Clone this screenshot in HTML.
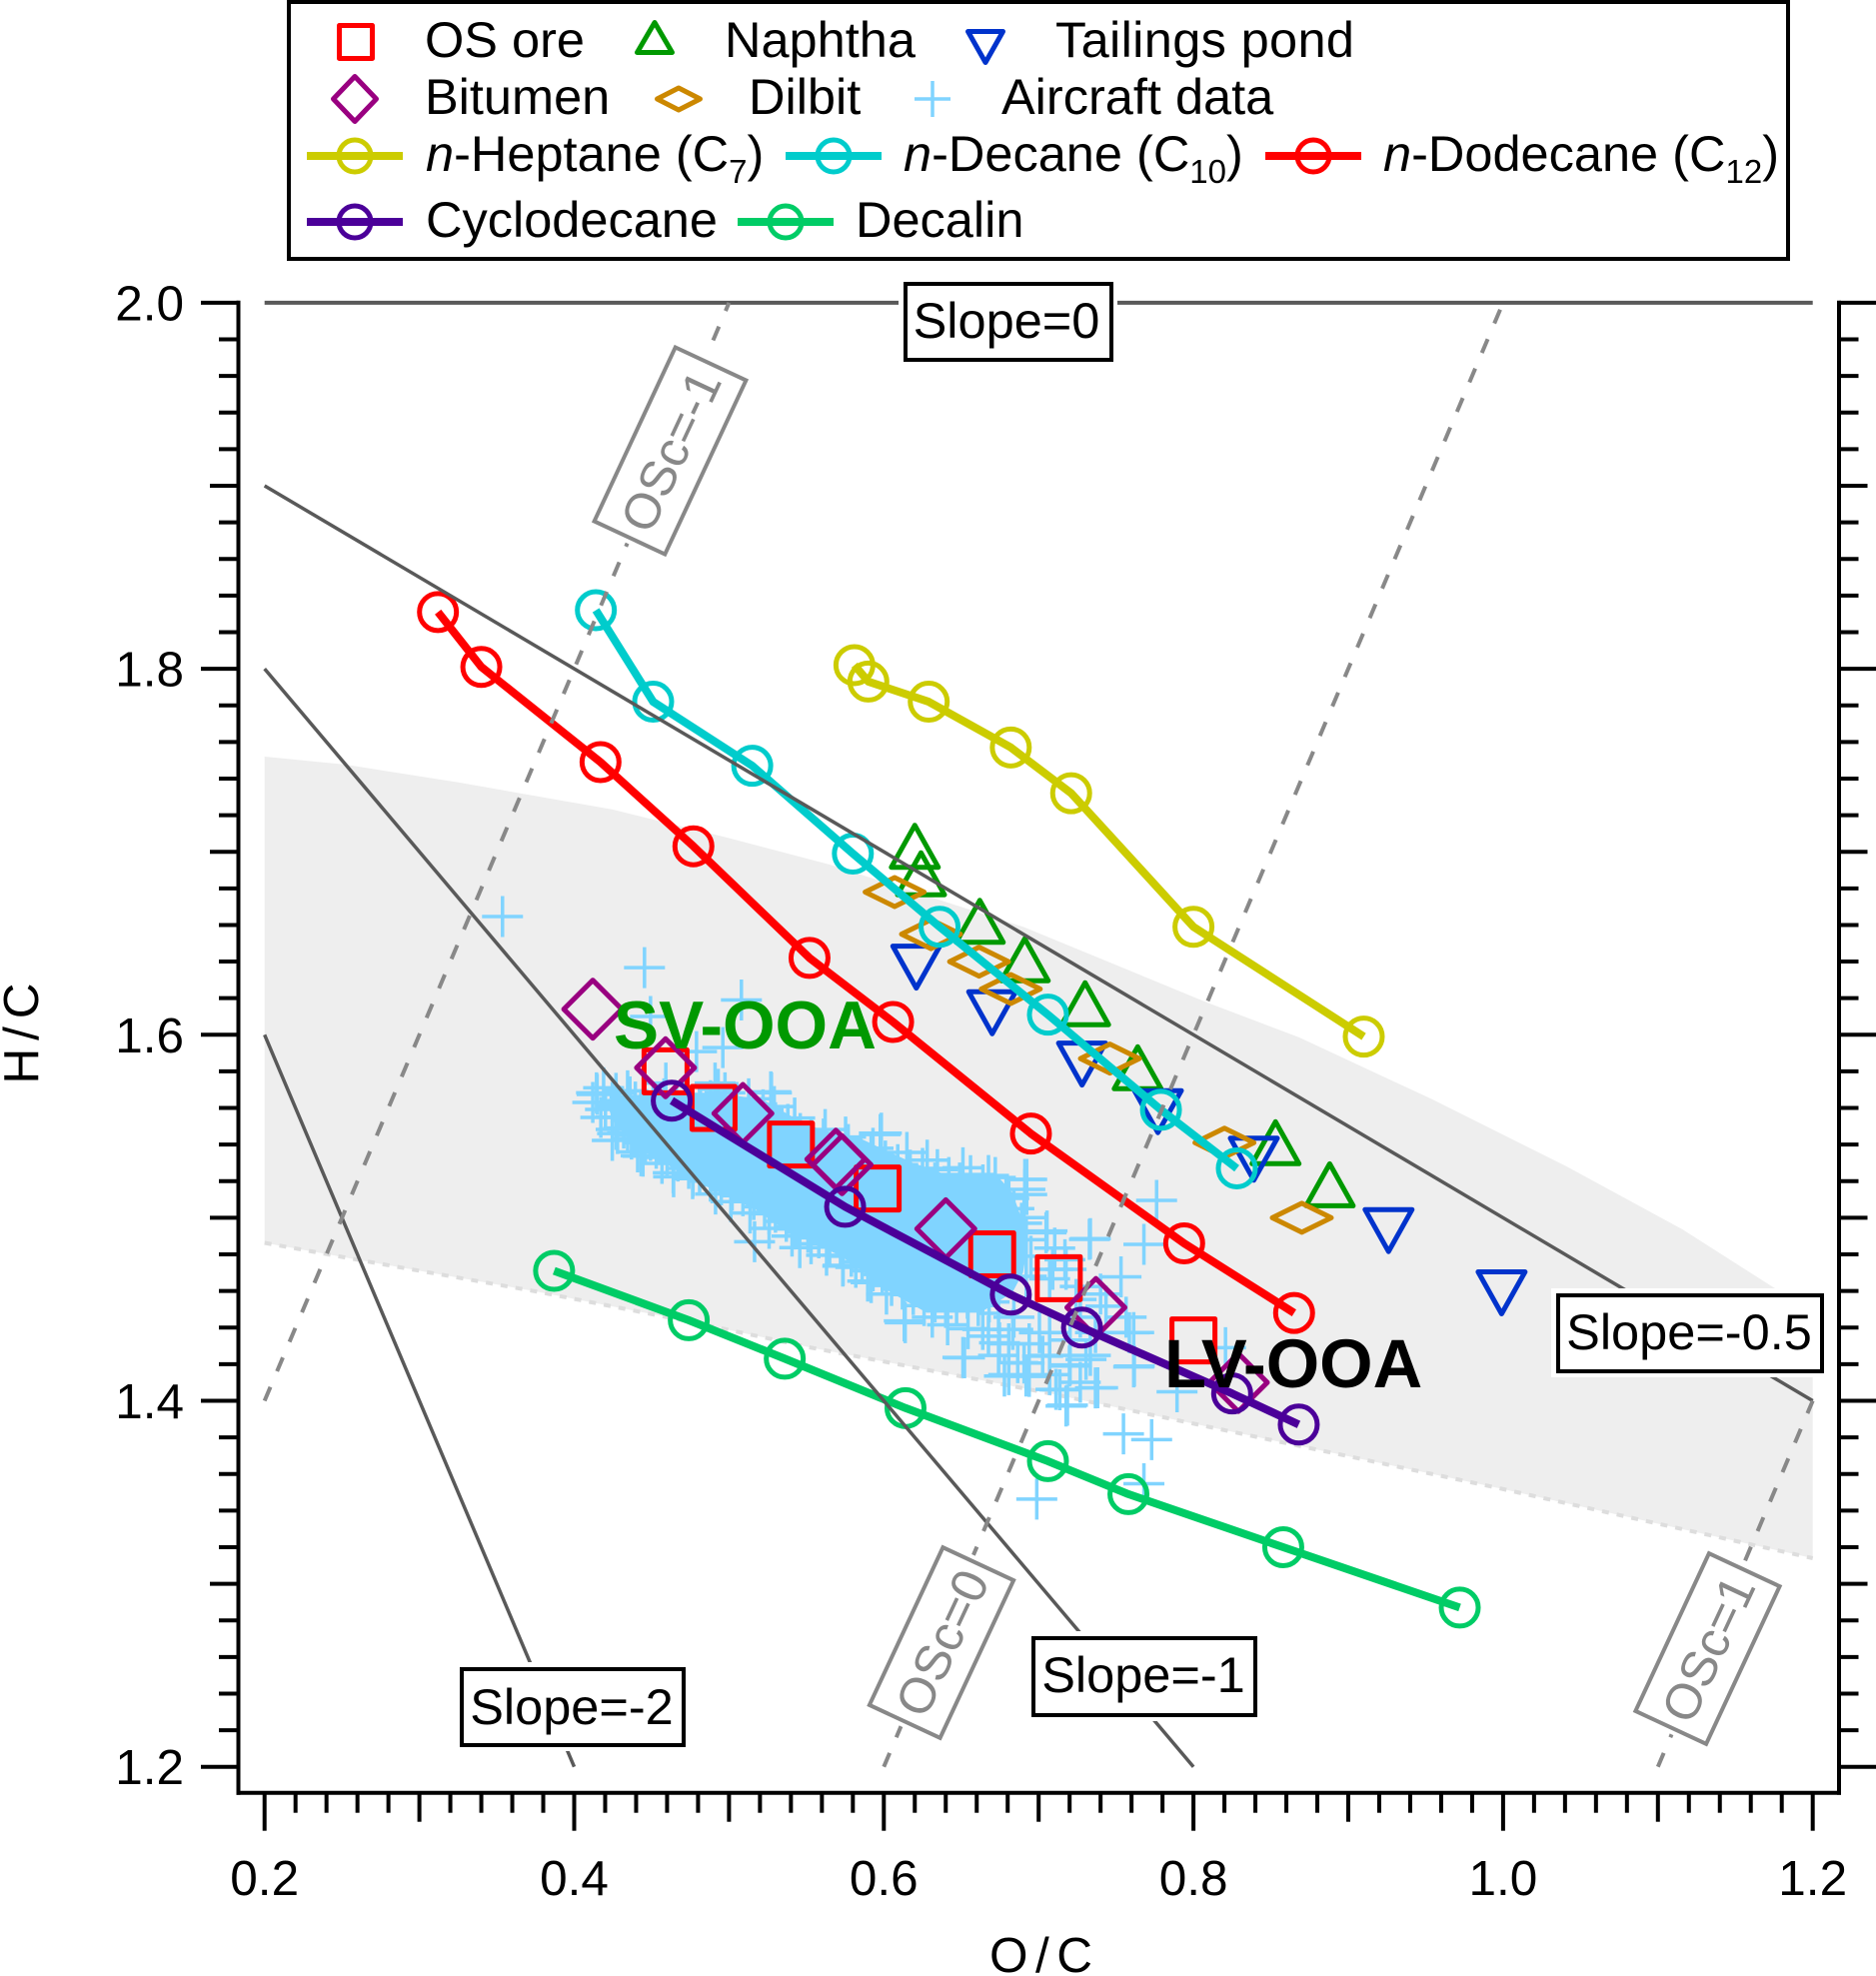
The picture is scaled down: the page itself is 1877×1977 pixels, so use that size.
<!DOCTYPE html>
<html lang="en">
<head>
<meta charset="utf-8">
<title>H/C versus O/C Van Krevelen diagram</title>
<style>
html,body{margin:0;padding:0;background:#fff;}
svg{display:block;}
text{font-family:"Liberation Sans",sans-serif;font-size:49.5px;fill:#000;}
.lg{font-size:50.5px;}
.osc{fill:#888;font-size:50px;}
.big{font-weight:700;}
</style>
</head>
<body>
<svg id="chart" xmlns="http://www.w3.org/2000/svg" width="1877" height="1977" viewBox="0 0 1877 1977">
  <g id="plot"></g>

  <g>
    <rect x="899" y="277" width="219" height="89" fill="#fff"/>
    <rect x="906" y="284" width="206" height="76" fill="#fff" stroke="#000" stroke-width="4"/>
    <text class="lg" x="1007" y="338" text-anchor="middle">Slope=0</text>
  </g>
  <g>
    <rect x="1552" y="1289" width="276" height="89" fill="#fff"/>
    <rect x="1559" y="1296" width="264" height="76" fill="#fff" stroke="#000" stroke-width="4"/>
    <text class="lg" x="1690" y="1350" text-anchor="middle">Slope=-0.5</text>
  </g>
  <g>
    <rect x="1027" y="1632" width="235" height="90" fill="#fff"/>
    <rect x="1034" y="1639" width="222" height="77" fill="#fff" stroke="#000" stroke-width="4"/>
    <text class="lg" x="1144" y="1693" text-anchor="middle">Slope=-1</text>
  </g>
  <g>
    <rect x="455" y="1663" width="235" height="89" fill="#fff"/>
    <rect x="462" y="1670" width="222" height="76" fill="#fff" stroke="#000" stroke-width="4"/>
    <text class="lg" x="572" y="1725" text-anchor="middle">Slope=-2</text>
  </g>
  <g transform="translate(670.5 451) rotate(-65)">
    <rect x="-102" y="-45" width="204" height="90" fill="#fff"/>
    <rect x="-96" y="-39" width="192" height="78" fill="#fff" stroke="#888" stroke-width="4"/>
    <text class="osc" x="0" y="18" text-anchor="middle">OSc=-1</text>
  </g>
  <g transform="translate(942 1643.5) rotate(-65)">
    <rect x="-93" y="-45" width="186" height="90" fill="#fff"/>
    <rect x="-87" y="-39" width="174" height="78" fill="#fff" stroke="#888" stroke-width="4"/>
    <text class="osc" x="0" y="18" text-anchor="middle">OSc=0</text>
  </g>
  <g transform="translate(1708.5 1649.5) rotate(-65)">
    <rect x="-93" y="-45" width="186" height="90" fill="#fff"/>
    <rect x="-87" y="-39" width="174" height="78" fill="#fff" stroke="#888" stroke-width="4"/>
    <text class="osc" x="0" y="18" text-anchor="middle">OSc=1</text>
  </g>

  <text class="big" x="614" y="1049" style="fill:#009900;font-size:67.6px">SV-OOA</text>
  <text class="big" x="1165" y="1388" style="font-size:68.7px">LV-OOA</text>

  <text x="990" y="1973" textLength="103" lengthAdjust="spacing">O / C</text>
  <text transform="translate(38 1084.5) rotate(-90)" textLength="101" lengthAdjust="spacing">H / C</text>

  <g>
    <rect x="289" y="2" width="1500" height="257" fill="#fff" stroke="#000" stroke-width="4"/>
    <g>
      <rect x="339.5" y="25.5" width="33" height="33" fill="none" stroke="#ff0000" stroke-width="5" stroke-linejoin="round"/>
      <text class="lg" x="425" y="57">OS ore</text>
    </g>
    <g>
      <polygon points="655,22.5 672.5,52.5 637.5,52.5" fill="none" stroke="#009900" stroke-width="5" stroke-linejoin="round"/>
      <text class="lg" x="725" y="57">Naphtha</text>
    </g>
    <g>
      <polygon points="968.5,31.5 1003.5,31.5 986,62.5" fill="none" stroke="#0033cc" stroke-width="5" stroke-linejoin="round"/>
      <text class="lg" x="1056" y="57" textLength="299" lengthAdjust="spacing">Tailings pond</text>
    </g>
    <g>
      <polygon points="355,76.5 376.5,99 355,121.5 333.5,99" fill="none" stroke="#990080" stroke-width="5" stroke-linejoin="round"/>
      <text class="lg" x="425" y="114">Bitumen</text>
    </g>
    <g>
      <polygon points="679,88 700.5,99 679,110 657.5,99" fill="none" stroke="#cc8800" stroke-width="5" stroke-linejoin="round"/>
      <text class="lg" x="749" y="114">Dilbit</text>
    </g>
    <g>
      <path d="M915 99H951M933 81V117" fill="none" stroke="#80d4ff" stroke-width="3.5"/>
      <text class="lg" x="1002" y="114">Aircraft data</text>
    </g>
    <g>
      <path d="M307 156H403" stroke="#cccc00" stroke-width="8"/>
      <circle cx="355" cy="156" r="16" fill="none" stroke="#cccc00" stroke-width="5"/>
      <text class="lg" x="426" y="171"><tspan font-style="italic">n</tspan>-Heptane (C<tspan dy="12" style="font-size:33px">7</tspan><tspan dy="-12">)</tspan></text>
    </g>
    <g>
      <path d="M786 156H882" stroke="#00cccc" stroke-width="8"/>
      <circle cx="834" cy="156" r="16" fill="none" stroke="#00cccc" stroke-width="5"/>
      <text class="lg" x="904" y="171"><tspan font-style="italic">n</tspan>-Decane (C<tspan dy="12" style="font-size:33px">10</tspan><tspan dy="-12">)</tspan></text>
    </g>
    <g>
      <path d="M1266 156H1362" stroke="#ff0000" stroke-width="8"/>
      <circle cx="1314" cy="156" r="16" fill="none" stroke="#ff0000" stroke-width="5"/>
      <text class="lg" x="1384" y="171"><tspan font-style="italic">n</tspan>-Dodecane (C<tspan dy="12" style="font-size:33px">12</tspan><tspan dy="-12">)</tspan></text>
    </g>
    <g>
      <path d="M307 222H403" stroke="#4b0099" stroke-width="8"/>
      <circle cx="355" cy="222" r="16" fill="none" stroke="#4b0099" stroke-width="5"/>
      <text class="lg" x="426" y="237">Cyclodecane</text>
    </g>
    <g>
      <path d="M738 222H834" stroke="#00cc66" stroke-width="8"/>
      <circle cx="786" cy="222" r="16" fill="none" stroke="#00cc66" stroke-width="5"/>
      <text class="lg" x="856" y="237">Decalin</text>
    </g>
  </g>
</svg>

<script>
/* Axis tick labels */
const xTickValues = [0.2, 0.4, 0.6, 0.8, 1.0, 1.2];
const xTickLabels = ["0.2", "0.4", "0.6", "0.8", "1.0", "1.2"];
const yTickValues = [1.2, 1.4, 1.6, 1.8, 2.0];
const yTickLabels = ["1.2", "1.4", "1.6", "1.8", "2.0"];

/* Model compound series */
const heptaneOC = [0.581, 0.590, 0.629, 0.682, 0.721, 0.800, 0.910];
const heptaneHC = [1.802, 1.793, 1.782, 1.757, 1.732, 1.659, 1.599];
const decaneOC = [0.414, 0.451, 0.515, 0.580, 0.636, 0.706, 0.779, 0.828];
const decaneHC = [1.832, 1.782, 1.747, 1.699, 1.659, 1.611, 1.559, 1.527];
const dodecaneOC = [0.312, 0.340, 0.417, 0.477, 0.552, 0.606, 0.695, 0.794, 0.865];
const dodecaneHC = [1.831, 1.801, 1.749, 1.703, 1.642, 1.607, 1.546, 1.486, 1.448];
const cyclodecaneOC = [0.463, 0.575, 0.682, 0.728, 0.825, 0.868];
const cyclodecaneHC = [1.564, 1.506, 1.458, 1.440, 1.404, 1.387];
const decalinOC = [0.387, 0.474, 0.536, 0.614, 0.706, 0.758, 0.858, 0.972];
const decalinHC = [1.471, 1.444, 1.423, 1.396, 1.367, 1.349, 1.320, 1.287];

/* Oil-sands samples */
const osOreOC = [0.459, 0.490, 0.540, 0.596, 0.670, 0.713, 0.800];
const osOreHC = [1.580, 1.560, 1.540, 1.516, 1.480, 1.467, 1.433];
const naphthaOC = [0.620, 0.624, 0.662, 0.691, 0.730, 0.764, 0.853, 0.888];
const naphthaHC = [1.703, 1.688, 1.662, 1.641, 1.617, 1.582, 1.541, 1.518];
const tailingsOC = [0.621, 0.670, 0.728, 0.777, 0.839, 0.926, 0.999];
const tailingsHC = [1.637, 1.612, 1.584, 1.558, 1.532, 1.493, 1.459];
const bitumenOC = [0.412, 0.459, 0.509, 0.569, 0.573, 0.640, 0.737, 0.829];
const bitumenHC = [1.614, 1.582, 1.557, 1.532, 1.529, 1.494, 1.451, 1.410];
const dilbitOC = [0.607, 0.6305, 0.6615, 0.682, 0.746, 0.820, 0.870];
const dilbitHC = [1.678, 1.655, 1.640, 1.625, 1.587, 1.541, 1.500];

/* Aircraft data: readable individual crosses (O/C, H/C) */
const aircraftPoints = [
[.3537,1.6646],[.4454,1.6367],[.508,1.619],[.4493,1.610],[.479,1.5908],[.496,1.593],[.491,1.5736],[.527,1.5688],[.5165,1.4869],
[.4148,1.5674],[.4345,1.5694],[.4246,1.563],[.4172,1.5548],[.4345,1.5464],[.4432,1.5339],[.4642,1.5224],[.4765,1.5214],[.432,1.5548],[.4395,1.5632],[.4592,1.5736],[.4815,1.5632],[.5012,1.5548],[.4493,1.5423],[.4246,1.5423],[.4567,1.5297],[.4913,1.513],[.5012,1.5088],[.5136,1.5026],[.5259,1.4942],[.5407,1.49],[.5457,1.4837],[.553,1.4858],[.563,1.4795],
[.5424,1.5545],[.5753,1.5441],[.5984,1.5462],[.6346,1.5263],[.6511,1.5273],[.6676,1.5231],[.6923,1.521],[.6923,1.5127],[.6807,1.5106],[.628,1.5315],[.5918,1.5336],[.6149,1.5357],[.5621,1.5482],[.5292,1.5608],[.5127,1.565],[.493,1.5702],
[.7054,1.4928],[.6906,1.5001],[.7104,1.4834],[.7334,1.4886],[.717,1.4771],[.768,1.4855],[.7762,1.5095],[.7532,1.4677],[.74,1.4583],[.7269,1.4625],[.7071,1.4666],[.7565,1.4457],[.7614,1.4373],[.7269,1.4457],[.7367,1.4373],[.7203,1.4332],[.7071,1.4373],[.7071,1.4248],[.6939,1.4311],[.6807,1.4311],[.6676,1.4353],[.6511,1.4237],[.6741,1.4248],[.6906,1.4206],[.7203,1.4196],[.7334,1.4248],[.7614,1.4185],[.6807,1.4143],[.6939,1.4133],[.7071,1.4143],[.7269,1.4101],[.7367,1.407],[.7137,1.406],[.7186,1.3976],[.7894,1.4049],[.8207,1.429],
[.7548,1.3819],[.773,1.3788],[.768,1.3547],[.6988,1.3463],
[.6132,1.4436],[.6313,1.4457],[.6412,1.4415],[.6544,1.4394],[.6017,1.4583],[.5918,1.4646],[.5737,1.474],[.5819,1.4729],[.5424,1.4939],[.5259,1.5022],[.6741,1.4478],[.684,1.4457],
/* upper fringe */
[.429,1.561],[.436,1.566],[.443,1.559],[.451,1.563],[.458,1.565],[.466,1.561],[.473,1.566],[.481,1.560],[.488,1.564],[.497,1.561],[.505,1.563],[.513,1.558],[.522,1.559],[.530,1.552],[.538,1.551],[.546,1.546],[.553,1.544],[.561,1.543],[.569,1.538],[.577,1.540],[.585,1.536],[.593,1.538],[.601,1.531],[.609,1.529],[.617,1.526],[.625,1.527],[.633,1.519],[.642,1.522],[.649,1.519],[.656,1.523],[.664,1.518],[.672,1.522],[.679,1.512],[.684,1.505],[.689,1.497],[.692,1.488],[.695,1.479],[.692,1.468],
/* lower fringe */
[.668,1.454],[.661,1.452],[.654,1.456],[.647,1.453],[.640,1.451],[.633,1.454],[.626,1.452],[.619,1.458],[.612,1.461],[.605,1.463],[.599,1.469],[.593,1.471],[.586,1.476],[.579,1.479],[.572,1.484],[.565,1.486],[.558,1.489],[.551,1.492],[.544,1.495],[.537,1.498],[.530,1.503],[.523,1.506],[.516,1.510],[.509,1.512],[.502,1.515],[.495,1.518],[.488,1.520],[.481,1.525],[.474,1.527],[.467,1.531],[.460,1.533],[.453,1.538],[.446,1.541],[.439,1.545],[.432,1.549],[.427,1.555],
/* left edge and extra crosses read from close-ups */
[.412,1.563],[.419,1.571],[.427,1.568],[.437,1.543],[.428,1.546],[.441,1.536],[.4144,1.5683],[.4202,1.5592],[.4271,1.5483],[.4444,1.5337],[.464,1.5246],[.4767,1.5228],[.4974,1.5683],[.5274,1.5683],[.5977,1.5455],[.6911,1.521],[.6911,1.5155],[.5735,1.4736],[.5896,1.4654],[.6138,1.4427],
[.7328,1.4882],[.7048,1.4918],[.7586,1.4372],[.7618,1.419],[.7381,1.4071],[.7177,1.3971],[.6521,1.4235],[.6779,1.4135],[.6919,1.4135],[.6747,1.4317],[.6865,1.4208],[.7026,1.4244],[.7112,1.4062],[.7199,1.419],[.7306,1.4226],[.6833,1.439],[.7005,1.4372],[.6639,1.439],[.7242,1.4554],[.7091,1.4718],[.7177,1.4718],[.7435,1.4517]
];
/* Aircraft data: outline of the part where crosses overlap into a solid mass */
const aircraftCoreOC = [.4202,.4524,.4893,.5216,.5401,.5585,.5862,.6000,.6184,.6369,.6715,.6830,.6876,.6934,.6899,.6830,.6623,.6277,.6046,.5908,.5723,.5539,.5354,.5170,.4939,.4755,.4617,.4386,.4248];
const aircraftCoreHC = [1.5647,1.5683,1.5683,1.5647,1.5556,1.5483,1.5428,1.5373,1.5301,1.5246,1.5246,1.5137,1.5028,1.4882,1.4700,1.4591,1.4481,1.4481,1.4591,1.4682,1.4791,1.4864,1.4937,1.5046,1.5137,1.5210,1.5282,1.5392,1.5537];

/* Ambient OA shaded band */
const bandTopOC = [.2,.2518,.326,.4248,.4984,.565,.690,.809,.8684,.9543,1.0408,1.1157,1.1737,1.2];
const bandTopHC = [1.752,1.7477,1.7378,1.7231,1.7078,1.693,1.659,1.6176,1.5985,1.5647,1.5281,1.4937,1.4625,1.449];
const bandBottomOC = [.2,.2764,.375,.4765,.552,.707,.894,.9975,1.2];
const bandBottomHC = [1.4863,1.4746,1.4598,1.443,1.4292,1.4041,1.3708,1.3522,1.314];

/* Guide lines */
const slopeLineStartOC = [0.2, 0.2, 0.2, 0.2];
const slopeLineStartHC = [2.0, 1.9, 1.8, 1.6];
const slopeLineEndOC = [1.2, 1.2, 0.8, 0.4];
const slopeLineEndHC = [2.0, 1.4, 1.2, 1.2];
const oscLineStartOC = [0.2, 0.6, 1.1];
const oscLineStartHC = [1.4, 1.2, 1.2];
const oscLineEndOC = [0.5, 1.0, 1.2];
const oscLineEndHC = [2.0, 2.0, 1.4];

const SVGNS = "http://www.w3.org/2000/svg";
const plot = document.getElementById("plot");

function xAxis(v) { return 264.7 + (v - 0.2) * 1549; }
function yAxis(v) { return 1767.7 - (v - 1.2) * 1831; }

function make(tag, attrs, parent) {
  const node = document.createElementNS(SVGNS, tag);
  for (const k in attrs) node.setAttribute(k, attrs[k]);
  (parent || plot).appendChild(node);
  return node;
}
function group(parent) { return make("g", {}, parent); }

function polyPoints(xs, ys) {
  return xs.map((v, i) => xAxis(v).toFixed(1) + "," + yAxis(ys[i]).toFixed(1)).join(" ");
}

function shapeAt(kind, cx, cy, colour, parent) {
  function pts(list) { return list.map(p => (cx + p[0]).toFixed(1) + "," + (cy + p[1]).toFixed(1)).join(" "); }
  function outline(list) { return make("polygon", {points: pts(list), fill: "none", stroke: colour, "stroke-width": 5, "stroke-linejoin": "round"}, parent); }
  if (kind === "square") return make("rect", {x: cx - 21.5, y: cy - 21.5, width: 43, height: 43, fill: "none", stroke: colour, "stroke-width": 5, "stroke-linejoin": "round"}, parent);
  if (kind === "up") return outline([[0, -21], [23.5, 21], [-23.5, 21]]);
  if (kind === "down") return outline([[0, 21], [23.5, -21], [-23.5, -21]]);
  if (kind === "diamond") return outline([[0, -29], [29, 0], [0, 29], [-29, 0]]);
  if (kind === "flat") return outline([[0, -14.5], [29.5, 0], [0, 14.5], [-29.5, 0]]);
  if (kind === "circle") return make("circle", {cx: cx, cy: cy, r: 18.5, fill: "none", stroke: colour, "stroke-width": 5}, parent);
  return make("path", {d: "M" + (cx - 20.5) + " " + cy + "H" + (cx + 20.5) + "M" + cx + " " + (cy - 20.5) + "V" + (cy + 20.5), fill: "none", stroke: colour, "stroke-width": 3.5}, parent);
}

/* ---------- shaded band ---------- */
const band = make("polygon", {
  points: polyPoints(bandTopOC, bandTopHC) + " " + polyPoints(bandBottomOC.slice().reverse(), bandBottomHC.slice().reverse()),
  fill: "#eeeeee"
});



const bandEdge = make("polyline", {
  points: polyPoints(bandBottomOC, bandBottomHC),
  fill: "none", stroke: "#dddddd", "stroke-width": 4, "stroke-dasharray": "7 8"
});



/* ---------- aircraft data ---------- */
const aircraftGroup = group();


const aircraftCore = make("polygon", {points: polyPoints(aircraftCoreOC, aircraftCoreHC), fill: "#80d4ff"}, aircraftGroup);


aircraftPoints.forEach(function (p) {
  const el = shapeAt("plus", xAxis(p[0]), yAxis(p[1]), "#80d4ff", aircraftGroup);
  
  
});

/* ---------- sample markers ---------- */
const osOreGroup = group();


osOreOC.forEach(function (v, i) {
  const el = shapeAt("square", xAxis(v), yAxis(osOreHC[i]), "#ff0000", osOreGroup);
  
  
});

const naphthaGroup = group();


naphthaOC.forEach(function (v, i) {
  const el = shapeAt("up", xAxis(v), yAxis(naphthaHC[i]), "#009900", naphthaGroup);
  
  
});

const tailingsGroup = group();


tailingsOC.forEach(function (v, i) {
  const el = shapeAt("down", xAxis(v), yAxis(tailingsHC[i]), "#0033cc", tailingsGroup);
  
  
});

const bitumenGroup = group();


bitumenOC.forEach(function (v, i) {
  const el = shapeAt("diamond", xAxis(v), yAxis(bitumenHC[i]), "#990080", bitumenGroup);
  
  
});

const dilbitGroup = group();


dilbitOC.forEach(function (v, i) {
  const el = shapeAt("flat", xAxis(v), yAxis(dilbitHC[i]), "#cc8800", dilbitGroup);
  
  
});

/* ---------- model compound lines ---------- */
function drawCompound(xs, ys, colour, parent) {
  make("polyline", {points: polyPoints(xs, ys), fill: "none", stroke: colour, "stroke-width": 8, "stroke-linejoin": "round"}, parent);
  xs.forEach(function (v, i) { shapeAt("circle", xAxis(v), yAxis(ys[i]), colour, parent); });
}
const heptaneGroup = group();


drawCompound(heptaneOC, heptaneHC, "#cccc00", heptaneGroup);

const decaneGroup = group();


drawCompound(decaneOC, decaneHC, "#00cccc", decaneGroup);

const dodecaneGroup = group();


drawCompound(dodecaneOC, dodecaneHC, "#ff0000", dodecaneGroup);

const cyclodecaneGroup = group();


drawCompound(cyclodecaneOC, cyclodecaneHC, "#4b0099", cyclodecaneGroup);

const decalinGroup = group();


drawCompound(decalinOC, decalinHC, "#00cc66", decalinGroup);

/* ---------- guide lines (sit above the data in the original) ---------- */
slopeLineStartOC.forEach(function (v, i) {
  const el = make("line", {
    x1: xAxis(v), y1: yAxis(slopeLineStartHC[i]),
    x2: xAxis(slopeLineEndOC[i]), y2: yAxis(slopeLineEndHC[i]),
    stroke: "#595959", "stroke-width": i === 0 ? 4 : 3.5
  });
  
  
});
oscLineStartOC.forEach(function (v, i) {
  const el = make("line", {
    x1: xAxis(v), y1: yAxis(oscLineStartHC[i]),
    x2: xAxis(oscLineEndOC[i]), y2: yAxis(oscLineEndHC[i]),
    stroke: "#888888", "stroke-width": 4, "stroke-dasharray": "15 17"
  });
  
  
});

/* ---------- axes ---------- */
const axesGroup = group();



const leftSpine = make("line", {x1: 238.5, y1: 300.7, x2: 238.5, y2: 1795.7, stroke: "#000", "stroke-width": 4}, axesGroup);


const rightSpine = make("line", {x1: 1840, y1: 300.7, x2: 1840, y2: 1795.7, stroke: "#000", "stroke-width": 4}, axesGroup);


const bottomSpine = make("line", {x1: 236.5, y1: 1793.7, x2: 1842, y2: 1793.7, stroke: "#000", "stroke-width": 4}, axesGroup);



for (let i = 0; i <= 50; i++) {
  const v = 0.2 + i * 0.02;
  const len = i % 10 === 0 ? 38 : (i % 5 === 0 ? 29 : 20);
  const el = make("line", {x1: xAxis(v), y1: 1793.7, x2: xAxis(v), y2: 1793.7 + len, stroke: "#000", "stroke-width": 4}, axesGroup);
  
  
}
for (let i = 0; i <= 40; i++) {
  const v = 1.2 + i * 0.02;
  const len = i % 10 === 0 ? 37.5 : (i % 5 === 0 ? 28.5 : 19.5);
  const left = make("line", {x1: 238.5, y1: yAxis(v), x2: 238.5 - len, y2: yAxis(v), stroke: "#000", "stroke-width": 4}, axesGroup);
  
  
  const right = make("line", {x1: 1840, y1: yAxis(v), x2: 1840 + len, y2: yAxis(v), stroke: "#000", "stroke-width": 4}, axesGroup);
  
  
}
xTickValues.forEach(function (v, i) {
  const el = make("text", {x: xAxis(v), y: 1896, "text-anchor": "middle"}, axesGroup);
  el.textContent = xTickLabels[i];
  
  
});
yTickValues.forEach(function (v, i) {
  const el = make("text", {x: 184, y: yAxis(v) + 17.5, "text-anchor": "end"}, axesGroup);
  el.textContent = yTickLabels[i];
  
  
});
</script>
</body>
</html>
